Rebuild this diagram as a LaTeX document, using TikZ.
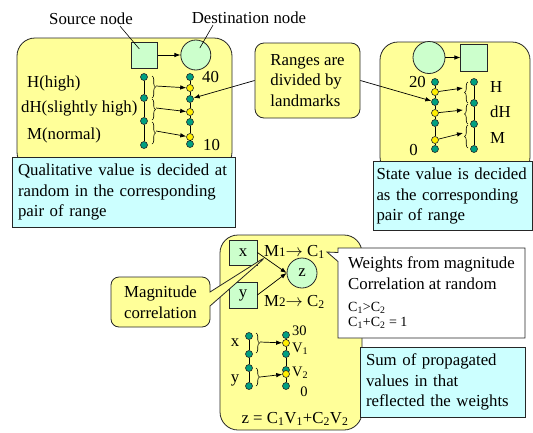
\documentclass[tikz,border=0pt]{standalone}
\usepackage{fontspec}
\setmainfont{Liberation Serif}
\usepackage{xcolor}
\definecolor{paneyel}{RGB}{255,255,153}
\definecolor{notecyan}{RGB}{204,255,255}
\definecolor{boxgreen}{RGB}{204,255,204}
\definecolor{dotgreen}{RGB}{0,160,128}
\definecolor{dotyel}{RGB}{255,238,0}
\usetikzlibrary{positioning,arrows.meta,shapes.callouts,decorations.pathreplacing}

\begin{document}
\begin{tikzpicture}[
  x=1pt, y=-1pt,
  font=\fontsize{16.8}{20.8}\selectfont,
  panel/.style={draw=black!85, fill=paneyel, rounded corners=18pt, line width=0.8pt},
  note/.style={draw=black!85, fill=notecyan, line width=0.8pt, align=left, inner sep=6pt},
  tag/.style={draw=black!85, fill=paneyel, rounded corners=9pt, line width=0.8pt, align=left},
  mag/.style={rectangle callout, draw=black!85, fill=paneyel, rounded corners=8pt,
              line width=0.8pt, align=left, callout pointer width=14pt},
  wbox/.style={rectangle callout, draw=black!85, fill=white, line width=0.8pt,
               align=left, callout pointer width=9pt},
  sqnode/.style={draw=black!85, fill=boxgreen, line width=0.8pt, minimum size=26pt},
  crnode/.style={circle, draw=black!85, fill=boxgreen, line width=0.8pt, minimum size=30pt},
  gdot/.style={circle, draw=black!85, fill=dotgreen, line width=0.6pt, inner sep=0pt, minimum size=7pt},
  ydot/.style={gdot, fill=dotyel},
  col/.style={line width=0.8pt},
  brc/.style={decorate, decoration={brace, amplitude=3.5pt}, line width=0.6pt},
  flow/.style={-{Latex[length=6pt,width=4.5pt]}, line width=0.7pt},
  lead/.style={line width=0.6pt},
  lab/.style={inner sep=1pt},
  smalltxt/.style={font=\fontsize{14.5}{16}\selectfont},
]
\useasboundingbox (0,0) rectangle (533,432);

% --- left panel: qualitative value -> range ---
\node[panel, minimum width=215pt, minimum height=132pt] (lpan) at (124.5,104) {};
\node[sqnode] (src) at (144.5,55) {};
\node[crnode, right=22.5pt of src] (dst) {};
\draw[flow] (src) -- (dst);
\node[lab] (srclab) at (91,19) {Source node};
\node[lab] (dstlab) at (249,18) {Destination node};
\draw[lead, shorten >=8pt] ([xshift=29pt]srclab.south) -- (src.center);
\draw[lead, shorten >=8pt] ([xshift=-36pt]dstlab.south) -- (dst.center);

\foreach \n/\y in {1/77,2/98,3/121,4/145}
  \node[gdot] (la\n) at (144,\y) {};
\foreach \n/\y/\s in {1/77/gdot,2/88/ydot,3/99/gdot,4/112/ydot,5/122/gdot,6/137/ydot,7/144/gdot}
  \node[\s] (lb\n) at (190,\y) {};
\draw[col] (la1) -- (la2) -- (la3) -- (la4);
\draw[col] (lb1) -- (lb2) -- (lb3) -- (lb4) -- (lb5) -- (lb6) -- (lb7);

\draw[brc] (152,76) -- (152,98);
\draw[brc] (152,99) -- (152,120);
\draw[brc] (152,122) -- (152,144);
\coordinate (lt1) at (156,86);
\coordinate (lt2) at (156,108);
\coordinate (lt3) at (156,131);
\draw[flow] (lt1) -- (lb2);
\draw[flow] (lt2) -- (lb4);
\draw[flow] (lt3) -- (lb6);

\node[lab, anchor=west] (hl) at (26,83) {H(high)};
\node[lab, anchor=west] (dhl) at (20,108) {dH(slightly high)};
\node[lab, anchor=west] (ml) at (26,135) {M(normal)};
\node[lab, anchor=west] (lmax) at (201,77) {40};
\node[lab, anchor=west] (lmin) at (202,145) {10};

\node[note, minimum width=223pt, minimum height=70pt, text width=211pt] (lnote) at (123.5,192)
  {Qualitative value is decided at\\ random in the corresponding\\ pair of range};

% --- landmark note ---
\node[tag, minimum width=105pt, minimum height=75pt] (rng) at (307.5,80.5)
  {Ranges are\\ divided by\\ landmarks};

% --- right panel: range -> qualitative value ---
\node[panel, minimum width=150pt, minimum height=133pt] (rpan) at (455,108.5) {};
\node[crnode, minimum size=32pt] (rc) at (429,57.5) {};
\node[sqnode, minimum size=27pt, right=15pt of rc] (rs) {};
\draw[flow] (rc) -- (rs);

\foreach \n/\y/\s in {1/82/gdot,2/92/ydot,3/102/gdot,4/113/ydot,5/123/gdot,6/140/ydot,7/149/gdot}
  \node[\s] (ra\n) at (435,\y) {};
\foreach \n/\y in {1/82,2/103,3/124,4/149}
  \node[gdot] (rb\n) at (474,\y) {};
\draw[col] (ra1) -- (ra2) -- (ra3) -- (ra4) -- (ra5) -- (ra6) -- (ra7);
\draw[col] (rb1) -- (rb2) -- (rb3) -- (rb4);

\draw[brc] (468,103) -- (468,82);
\draw[brc] (468,124) -- (468,104);
\draw[brc] (468,148) -- (468,125);
\coordinate (rt1) at (463,88);
\coordinate (rt2) at (463,110);
\coordinate (rt3) at (463,133);
\draw[flow] (ra2) -- (rt1);
\draw[flow] (ra4) -- (rt2);
\draw[flow] (ra6) -- (rt3);

\node[lab, anchor=east] (rmax) at (427,82) {20};
\node[lab, anchor=east] (rmin) at (419,150) {0};
\node[lab, anchor=west] (rh) at (489,87) {H};
\node[lab, anchor=west] (rdh) at (489,112) {dH};
\node[lab, anchor=west] (rm) at (489,138) {M};

\draw[flow] (rng.west) -- (lb3);
\draw[flow] (rng.east) -- (ra3);

\node[note, minimum width=159pt, minimum height=68pt, text width=152pt, inner xsep=3.5pt] (rnote) at (452.5,196)
  {State value is decided\\ as the corresponding\\ pair of range};

% --- bottom panel: two sources -> z ---
\node[panel, minimum width=142pt, minimum height=195pt] (bpan) at (291,332.5) {};
\node[sqnode, minimum width=28pt, minimum height=25pt] (xs) at (243,252.5) {x};
\node[sqnode, minimum width=28pt, minimum height=26pt] (ys) at (243,295) {y};
\node[crnode] (zc) at (302,273) {z};
\draw[flow] (xs.east) -- (zc.west);
\draw[flow] (ys.east) -- (zc.west);
\node[lab, anchor=west] (mone) at (263,252)
  {M{\fontsize{13}{13}\selectfont 1}$\rightarrow$ C\textsubscript{1}};
\node[lab, anchor=west] (mtwo) at (263,302)
  {M{\fontsize{13}{13}\selectfont 2}$\rightarrow$ C\textsubscript{2}};

\foreach \n/\y in {1/336,2/354,3/368,4/386}
  \node[gdot] (bx\n) at (249,\y) {};
\foreach \n/\y/\s in {1/335/gdot,2/343/ydot,3/354/gdot,4/370/gdot,5/374/ydot,6/386/gdot}
  \node[\s] (by\n) at (286,\y) {};
\draw[col] (bx1) -- (bx2) -- (bx3) -- (bx4);
\draw[col] (by1) -- (by2) -- (by3) -- (by4);
\draw[col] (by5) -- (by6);

\draw[brc] (256,333) -- (256,353);
\draw[brc] (256,368) -- (256,386);
\coordinate (bt1) at (260,342);
\coordinate (bt2) at (260,377);
\draw[flow] (bt1) -- (by2);
\draw[flow] (bt2) -- (by5);

\node[lab] (xl) at (235,343) {x};
\node[lab] (yl) at (235,380) {y};
\node[lab, smalltxt, anchor=west] (bmax) at (291,331) {30};
\node[lab, smalltxt, anchor=west] (vone) at (291,349) {V\textsubscript{1}};
\node[lab, smalltxt, anchor=west] (vtwo) at (291,373) {V\textsubscript{2}};
\node[lab, smalltxt] (bmin) at (304,392) {0};
\node[lab] (zeq) at (295,419) {z = C\textsubscript{1}V\textsubscript{1}+C\textsubscript{2}V\textsubscript{2}};

% --- callouts ---
\node[mag, minimum width=99pt, minimum height=50pt, callout absolute pointer={(267,256)}] (magc)
  at (160.5,302) {Magnitude\\ correlation};
\node[wbox, minimum width=187pt, minimum height=90pt, callout absolute pointer={(327,252)}] (wts)
  at (431.5,293)
  {Weights from magnitude\\ Correlation at random\\[1pt]
   {\fontsize{14}{15}\selectfont C\textsubscript{1}>C\textsubscript{2}}\\[-5.5pt]
   {\fontsize{14}{15}\selectfont C\textsubscript{1}+C\textsubscript{2} = 1}};

\node[note, minimum width=165pt, minimum height=70pt, text width=153pt] (bnote) at (442.5,382)
  {Sum of propagated\\ values in that\\ reflected the weights};
\end{tikzpicture}
\end{document}
